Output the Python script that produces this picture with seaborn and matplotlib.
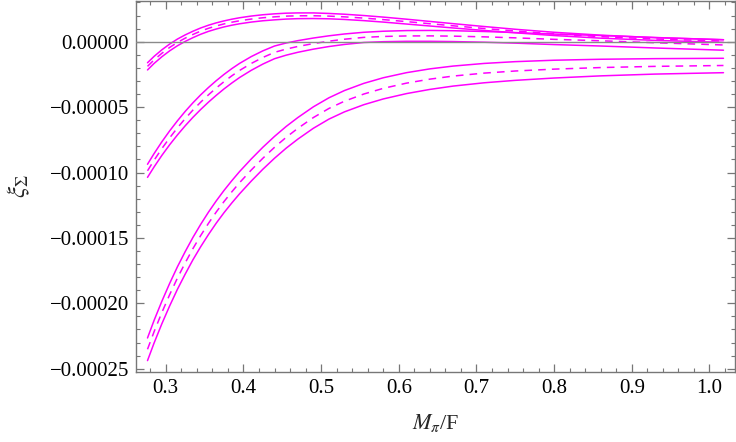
import numpy as np
import pandas as pd
import matplotlib
matplotlib.use("Agg")
import matplotlib.pyplot as plt
import seaborn as sns
from matplotlib.ticker import MultipleLocator, FuncFormatter

### DATA (values in units of 1e-5) ###

m_over_f = [0.2765, 0.285, 0.295, 0.305, 0.315, 0.325, 0.335, 0.345, 0.355, 0.365,
            0.375, 0.385, 0.395, 0.41, 0.425, 0.44, 0.455, 0.47, 0.49, 0.51,
            0.53, 0.555, 0.58, 0.61, 0.64, 0.67, 0.71, 0.75, 0.80, 0.86,
            0.93, 1.018]

# top band
top_upper = [-1.61, -1.12, -0.62, -0.18, 0.20, 0.52, 0.80, 1.05, 1.26, 1.44,
             1.59, 1.72, 1.83, 1.96, 2.06, 2.13, 2.18, 2.20, 2.20, 2.16,
             2.10, 2.00, 1.88, 1.72, 1.55, 1.38, 1.16, 0.95, 0.72, 0.50,
             0.31, 0.15]
top_mid = [-1.885, -1.39, -0.885, -0.44, -0.055, 0.27, 0.555, 0.81, 1.025, 1.205,
           1.36, 1.49, 1.60, 1.73, 1.83, 1.90, 1.955, 1.98, 1.985, 1.955,
           1.90, 1.805, 1.69, 1.535, 1.375, 1.215, 1.01, 0.815, 0.595, 0.385,
           0.205, 0.05]
top_lower = [-2.16, -1.66, -1.15, -0.70, -0.31, 0.02, 0.31, 0.57, 0.79, 0.97,
             1.13, 1.26, 1.37, 1.50, 1.60, 1.67, 1.73, 1.76, 1.77, 1.75,
             1.70, 1.61, 1.50, 1.35, 1.20, 1.05, 0.86, 0.68, 0.47, 0.27,
             0.10, -0.05]

# middle band
mid_upper = [-9.37, -8.55, -7.65, -6.82, -6.05, -5.33, -4.67, -4.06, -3.50, -2.98,
             -2.50, -2.06, -1.66, -1.14, -0.70, -0.33, -0.10, 0.08, 0.28, 0.45,
             0.59, 0.72, 0.80, 0.85, 0.86, 0.84, 0.78, 0.70, 0.58, 0.47,
             0.32, 0.15]
mid_mid = [-9.87, -9.06, -8.17, -7.35, -6.59, -5.88, -5.225, -4.62, -4.06, -3.54,
           -3.055, -2.61, -2.20, -1.665, -1.205, -0.815, -0.565, -0.365, -0.145, 0.04,
           0.19, 0.33, 0.40, 0.44, 0.445, 0.425, 0.37, 0.295, 0.18, 0.07,
           -0.08, -0.25]
mid_lower = [-10.37, -9.57, -8.69, -7.88, -7.13, -6.43, -5.78, -5.18, -4.62, -4.10,
             -3.61, -3.16, -2.74, -2.19, -1.71, -1.30, -1.03, -0.81, -0.57, -0.37,
             -0.21, -0.06, 0.00, 0.03, 0.03, 0.01, -0.04, -0.11, -0.22, -0.33,
             -0.48, -0.65]

# bottom band
low_upper = [-22.65, -21.30, -19.84, -18.48, -17.21, -16.05, -14.96, -13.96, -13.03, -12.17,
             -11.37, -10.63, -9.93, -8.97, -8.07, -7.24, -6.48, -5.80, -4.98, -4.29,
             -3.735, -3.185, -2.757, -2.367, -2.078, -1.863, -1.661, -1.525, -1.417, -1.342,
             -1.296, -1.269]
low_mid = [-23.515, -22.165, -20.70, -19.34, -18.07, -16.91, -15.815, -14.815, -13.885, -13.02,
           -12.22, -11.48, -10.78, -9.815, -8.91, -8.075, -7.31, -6.625, -5.80, -5.105,
           -4.55, -4.00, -3.567, -3.167, -2.863, -2.628, -2.401, -2.24, -2.097, -1.977,
           -1.886, -1.819]
low_lower = [-24.38, -23.03, -21.56, -20.20, -18.93, -17.77, -16.67, -15.67, -14.74, -13.87,
             -13.07, -12.33, -11.63, -10.66, -9.75, -8.91, -8.14, -7.45, -6.62, -5.92,
             -5.365, -4.815, -4.377, -3.967, -3.648, -3.393, -3.141, -2.955, -2.777, -2.612,
             -2.476, -2.369]

SCALE = 1e-5

curves = {
    "top_upper": top_upper, "top_mid": top_mid, "top_lower": top_lower,
    "mid_upper": mid_upper, "mid_mid": mid_mid, "mid_lower": mid_lower,
    "low_upper": low_upper, "low_mid": low_mid, "low_lower": low_lower,
}

### PLOT ###

sns.set_theme(style="ticks")
plt.rcParams["font.family"] = "serif"
plt.rcParams["font.serif"] = ["Liberation Serif", "DejaVu Serif"]
plt.rcParams["mathtext.fontset"] = "stix"
plt.rcParams["axes.unicode_minus"] = True

fig = plt.figure(figsize=(7.36, 4.42), dpi=100)
ax = fig.add_axes([0.1848, 0.159, 0.8138, 0.8387])

for name, vals in curves.items():
    ls = (0, (5, 4)) if name.endswith("_mid") else "-"
    sns.lineplot(x=m_over_f, y=np.array(vals) * SCALE, ax=ax, color="#ff00ff",
                 linewidth=1.1, linestyle=ls, sort=True)

# zero line drawn on top of the curves
ax.axhline(0, color="#8a8a8a", linewidth=1.0, zorder=3)

ax.set_xlim(0.2617, 1.0328)
ax.set_ylim(-0.0002523, 0.0000311)

ax.xaxis.set_major_locator(MultipleLocator(0.1))
ax.xaxis.set_minor_locator(MultipleLocator(0.02))
ax.yaxis.set_major_locator(MultipleLocator(0.00005))
ax.yaxis.set_minor_locator(MultipleLocator(0.00001))

ax.xaxis.set_major_formatter(FuncFormatter(lambda v, p: f"{v:.1f}"))

def yfmt(v, p):
    s = f"{v:.5f}"
    if s.startswith("-0.00000"):
        s = s[1:]
    return s.replace("-", "\u2212")

ax.yaxis.set_major_formatter(FuncFormatter(yfmt))

for side in ["top", "bottom", "left", "right"]:
    ax.spines[side].set_color("#777777")
    ax.spines[side].set_linewidth(1.0)

ax.tick_params(which="both", direction="in", top=True, right=True,
               color="#777777", labelsize=15, labelcolor="black")
ax.tick_params(which="major", length=5.5, width=0.9, pad=5)
ax.tick_params(which="minor", length=3, width=0.8)

ax.set_xlabel(r"$M_{\pi}$/F", fontsize=16, labelpad=10)
ax.set_ylabel(r"$\xi_{\Sigma}$", fontsize=18, labelpad=13)

fig.savefig("out.png", dpi=100)
